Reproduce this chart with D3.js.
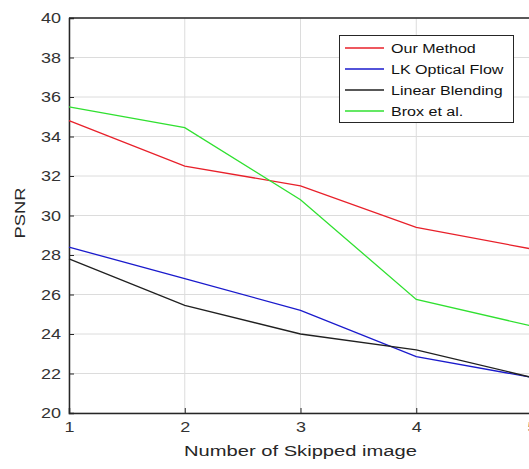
<!DOCTYPE html>
<html><head><meta charset="utf-8">
<script src="https://cdn.jsdelivr.net/npm/d3@7"></script>
<style>body{margin:0;background:#fff}svg{display:block}text{font-family:"Liberation Sans",Arial,sans-serif}</style>
</head><body><svg id="c" width="529" height="469"></svg>
<script>
const xValues = [1, 2, 3, 4, 5];
const ourMethod = [34.8, 32.5, 31.5, 29.4, 28.3];
const lkOpticalFlow = [28.4, 26.8, 25.2, 22.85, 21.8];
const linearBlending = [27.8, 25.45, 24.0, 23.2, 21.8];
const broxEtAl = [35.5, 34.45, 30.8, 25.75, 24.4];
const seriesNames = ["Our Method", "LK Optical Flow", "Linear Blending", "Brox et al."];
const seriesColors = ["#e8202a", "#1a1acc", "#202020", "#30e030"];
const yTicks = [20, 22, 24, 26, 28, 30, 32, 34, 36, 38, 40];
const xTicks = [1, 2, 3, 4, 5];

const svg = d3.select("#c");
const L = 69, R = 532, T = 18, B = 413;
const x = d3.scaleLinear().domain([1, 5]).range([L, R]);
const y = d3.scaleLinear().domain([20, 40]).range([B, T]);
const SX = 1.16;

// grid
svg.append("g").selectAll("line").data(xTicks).join("line")
  .attr("x1", d => x(d)).attr("x2", d => x(d)).attr("y1", T).attr("y2", B)
  .attr("stroke", "#dcdcdc").attr("stroke-width", 1);
svg.append("g").selectAll("line").data(yTicks).join("line")
  .attr("x1", L).attr("x2", R).attr("y1", d => y(d)).attr("y2", d => y(d))
  .attr("stroke", "#dcdcdc").attr("stroke-width", 1);

// axes
const xAxis = d3.axisBottom(x).tickValues(xTicks).tickSize(-5).tickPadding(8).tickFormat(d3.format("d"));
const yAxis = d3.axisLeft(y).tickValues(yTicks).tickSize(-5).tickPadding(8).tickFormat(d3.format("d"));
const gx = svg.append("g").attr("transform", `translate(0,${B})`).call(xAxis);
const gy = svg.append("g").attr("transform", `translate(${L},0)`).call(yAxis);
[gx, gy].forEach(g => {
  g.select(".domain").attr("stroke", "#262626").attr("stroke-width", 1.5);
  g.selectAll(".tick line").attr("stroke", "#262626");
  g.selectAll("text").attr("fill", "#333").style("font-size", "15.5px").style("font-family", "'Liberation Sans', Arial, sans-serif");
});
gx.selectAll(".tick text").attr("transform", `scale(${SX},1)`);
gy.selectAll(".tick text").each(function() {
  const t = d3.select(this);
  const xx = +t.attr("x");
  t.attr("transform", `translate(${xx},0) scale(${SX},1) translate(${-xx},0)`);
});
svg.append("line").attr("x1", L).attr("x2", R).attr("y1", T).attr("y2", T).attr("stroke", "#262626").attr("stroke-width", 1.5);

// lines
const allSeries = [ourMethod, lkOpticalFlow, linearBlending, broxEtAl];
const line = d3.line().x((d, i) => x(xValues[i])).y(d => y(d));
svg.append("g").selectAll("path").data(allSeries).join("path")
  .attr("d", d => line(d)).attr("fill", "none")
  .attr("stroke", (d, i) => seriesColors[i]).attr("stroke-width", 1.3);

// axis labels
svg.append("text").attr("transform", `translate(${(L + R) / 2},456) scale(1.3,1)`).attr("text-anchor", "middle")
  .attr("fill", "#262626").style("font-size", "15.5px").text("Number of Skipped image");
svg.append("text").attr("transform", `translate(25,${213}) rotate(-90) scale(1.22,1)`).attr("text-anchor", "middle")
  .attr("fill", "#262626").style("font-size", "15px").text("PSNR");

// legend
const lg = svg.append("g");
lg.append("rect").attr("x", 339.5).attr("y", 35.5).attr("width", 174).attr("height", 87)
  .attr("fill", "#fff").attr("stroke", "#262626").attr("stroke-width", 1);
const rows = lg.selectAll("g").data(seriesNames).join("g")
  .attr("transform", (d, i) => `translate(0,${48 + i * 21})`);
rows.append("line").attr("x1", 345).attr("x2", 384).attr("y1", 0).attr("y2", 0)
  .attr("stroke", (d, i) => seriesColors[i]).attr("stroke-width", 1.3);
rows.append("text").attr("transform", "translate(391,5) scale(1.19,1)").attr("fill", "#111")
  .style("font-size", "13.5px").text(d => d);
</script></body></html>
